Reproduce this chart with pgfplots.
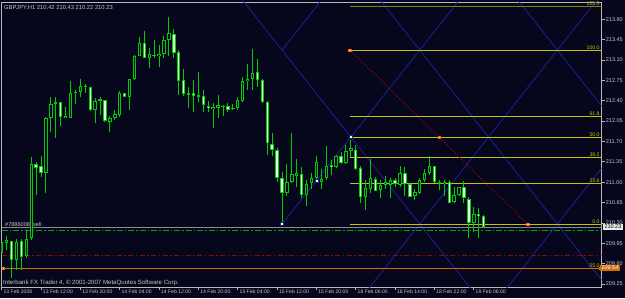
\documentclass[border=0pt]{standalone}
\usepackage{pgfplots}
\pgfplotsset{compat=1.18}
\usepackage{pgfplotstable}
\usepackage{fontspec}
\setmainfont{Liberation Sans}

\definecolor{bgc}{RGB}{6,6,28}
\definecolor{cgreen}{RGB}{0,205,0}
\definecolor{cwhite}{RGB}{228,255,228}
\definecolor{fibc}{RGB}{195,195,10}
\definecolor{fibtop}{RGB}{130,130,10}
\definecolor{gannc}{RGB}{32,32,150}
\definecolor{fibred}{RGB}{170,10,10}
\definecolor{framec}{RGB}{185,185,185}
\definecolor{lgray}{RGB}{200,200,200}
\definecolor{bidc}{RGB}{140,140,140}
\definecolor{ordgreen}{RGB}{0,165,0}
\definecolor{slred}{RGB}{135,10,10}
\definecolor{orangec}{RGB}{210,110,0}
\definecolor{boxgray}{RGB}{235,235,235}

\newcommand\fs[1]{\fontsize{#1}{#1}\selectfont}

\pgfplotsset{
  ebar/.style 2 args={draw=none, mark=none, forget plot,
    error bars/y dir=minus, error bars/y explicit, error bars/error mark=none,
    error bars/error bar style={draw=#1, line width=#2, line cap=butt}},
}

% bullish candles: i open high low close
\pgfplotstableread{
i o h l c
0 209.78 210.01 209.75 209.98
1 209.95 210.08 209.83 210.01
3 209.66 210.02 209.49 209.97
5 209.73 210.18 209.69 210.02
6 210.04 211.44 210.01 211.32
9 211.15 212.12 210.82 212.11
10 212.11 212.46 211.87 212.34
11 212.34 212.46 211.76 212.37
13 212.10 212.30 212.10 212.14
14 212.11 212.73 212.11 212.53
15 212.53 212.58 212.34 212.55
16 212.55 212.77 212.46 212.65
17 212.63 212.69 212.53 212.65
19 212.24 212.44 212.01 212.39
20 212.40 212.46 212.15 212.43
22 212.04 212.14 211.87 212.11
23 212.10 212.24 212.07 212.17
24 212.15 212.57 212.12 212.54
26 212.46 212.77 212.24 212.77
27 212.78 213.19 212.75 213.17
28 213.17 213.50 213.16 213.39
30 213.13 213.30 212.96 213.20
32 213.16 213.36 212.98 213.20
33 213.21 213.51 213.13 213.45
34 213.45 213.84 213.16 213.56
40 212.47 212.89 212.38 212.50
43 212.26 212.36 211.93 212.30
44 212.27 212.50 212.10 212.33
47 212.26 212.34 212.24 212.28
48 212.28 212.46 212.24 212.41
49 212.40 212.81 212.38 212.73
50 212.73 213.03 212.58 212.78
51 212.78 213.28 212.58 212.88
58 210.81 211.32 210.76 211.01
59 211.01 211.85 210.98 211.14
60 211.11 211.39 210.92 211.15
62 210.78 211.04 210.59 210.97
63 210.98 211.15 210.89 211.08
64 211.07 211.45 211.03 211.35
65 211.00 211.22 210.89 211.05
66 211.07 211.62 211.04 211.28
68 211.26 211.47 211.24 211.45
70 211.33 211.64 211.31 211.54
71 211.54 211.72 211.44 211.59
74 210.74 211.04 210.53 210.90
75 210.88 211.39 210.82 211.07
77 210.87 211.04 210.72 210.95
78 210.95 211.11 210.89 211.00
79 210.95 211.08 210.72 211.03
81 210.95 211.28 210.91 211.15
84 210.76 210.89 210.69 210.83
85 210.81 211.07 210.80 211.04
86 211.04 211.22 211.01 211.15
87 211.15 211.45 211.12 211.27
89 210.97 211.04 210.87 211.00
90 210.97 211.03 210.76 211.01
92 210.66 210.92 210.65 210.78
93 210.78 210.92 210.76 210.91
96 210.30 210.58 210.15 210.45
}\bulls

% bearish candles: i open high low close
\pgfplotstableread{
i o h l c
2 209.99 209.99 209.35 209.66
4 209.99 210.02 209.49 209.72
7 211.31 211.35 210.78 211.24
8 211.27 211.45 211.09 211.15
12 212.37 212.38 211.97 212.12
18 212.64 212.64 212.23 212.24
21 212.42 212.42 212.04 212.05
25 212.53 212.53 212.46 212.47
29 213.39 213.59 213.13 213.13
31 213.19 213.45 213.13 213.16
35 213.55 213.64 213.13 213.22
36 213.24 213.27 212.50 212.74
37 212.76 212.94 212.48 212.51
38 212.53 212.63 212.27 212.50
39 212.54 212.76 212.21 212.48
41 212.48 212.58 212.21 212.33
42 212.31 212.40 212.21 212.27
45 212.31 212.33 212.14 212.29
46 212.31 212.36 212.21 212.24
52 212.90 213.11 212.63 212.76
53 212.76 212.78 212.36 212.37
54 212.37 212.40 211.47 211.67
55 211.66 211.84 211.45 211.56
56 211.56 211.58 211.01 211.08
57 211.08 211.18 210.28 210.81
61 211.14 211.26 210.72 210.78
67 211.30 211.38 211.12 211.26
69 211.45 211.52 211.32 211.33
72 211.56 211.64 211.21 211.22
73 211.24 211.28 210.64 210.74
76 211.05 211.09 210.84 210.85
80 211.04 211.07 210.92 210.97
82 211.15 211.26 210.76 210.97
83 210.97 210.98 210.74 210.75
88 211.28 211.28 210.98 211.01
91 211.01 211.03 210.64 210.65
94 210.91 211.02 210.64 210.72
95 210.71 210.74 210.04 210.30
97 210.46 210.55 210.04 210.42
98 210.42 210.43 210.22 210.23
}\bears

\begin{document}
\begin{tikzpicture}[x=1pt,y=1pt]
\fill[bgc] (0pt,0pt) rectangle (625pt,298pt);
\begin{axis}[
  at={(1.7pt,11pt)}, anchor=south west,
  scale only axis, width=600pt, height=285pt,
  xmin=0, xmax=122, ymin=209.199, ymax=214.096,
  axis background/.style={fill=bgc},
  axis line style={draw=framec, line width=0.9pt},
  clip=true,
  xtick={0,8,...,96},
  xticklabels={13 Feb 2008,13 Feb 12:00,13 Feb 20:00,14 Feb 04:00,14 Feb 12:00,14 Feb 20:00,15 Feb 04:00,15 Feb 12:00,15 Feb 20:00,18 Feb 06:00,18 Feb 14:00,18 Feb 22:00,19 Feb 06:00},
  ytick={209.25,209.60,209.95,210.30,210.65,211.00,211.35,211.70,212.05,212.40,212.75,213.10,213.45,213.80},
  xtick pos=left, ytick pos=right, yticklabel pos=right,
  tick align=outside, major tick length=3pt,
  tick style={draw=framec, line width=0.7pt},
  xticklabel style={font=\fs{5.1}, text=lgray, anchor=north west, inner sep=0.5pt, xshift=1.2pt, yshift=1pt},
  yticklabel style={font=\fs{5.5}, text=lgray, anchor=west, inner sep=1pt,
    /pgf/number format/fixed, /pgf/number format/fixed zerofill,
    /pgf/number format/precision=2, /pgf/number format/assume math mode=true},
]
% Gann grid
\addplot[gannc, line width=0.8pt] coordinates {(45,214.5515) (100,208.678)};
\addplot[gannc, line width=0.8pt] coordinates {(73,214.5515) (128,208.678)};
\addplot[gannc, line width=0.8pt] coordinates {(101,214.5515) (130,211.4546)};
\addplot[gannc, line width=0.8pt] coordinates {(57,213.27) (69,214.5515)};
\addplot[gannc, line width=0.8pt] coordinates {(57,210.28) (97,214.5516)};
\addplot[gannc, line width=0.8pt] coordinates {(73,208.9985) (125,214.5516)};
\addplot[gannc, line width=0.8pt] coordinates {(101,208.9985) (130,212.0954)};
% Fibonacci levels
\addplot[fibtop, line width=1.8pt] coordinates {(70.82,214.0175) (122,214.0175)};
\addplot[fibc, line width=0.9pt] coordinates {(70.82,213.27) (122,213.27)};
\addplot[fibc, line width=0.9pt] coordinates {(70.82,212.128) (122,212.128)};
\addplot[fibc, line width=0.9pt] coordinates {(70.82,211.775) (122,211.775)};
\addplot[fibc, line width=0.9pt] coordinates {(70.82,211.422) (122,211.422)};
\addplot[fibc, line width=0.9pt] coordinates {(70.82,210.986) (122,210.986)};
\addplot[fibc, line width=0.9pt] coordinates {(70.82,210.28) (122,210.28)};
\addplot[fibred, line width=1pt, dash pattern=on 1pt off 2pt] coordinates {(70.82,213.27) (106.95,210.28)};
% order / price lines
\addplot[bidc, line width=0.9pt] coordinates {(0,210.23) (122,210.23)};
\addplot[ordgreen, line width=1pt, dash pattern=on 6pt off 2pt on 1.5pt off 2pt] coordinates {(0,210.178) (122,210.178)};
\addplot[slred, line width=1.5pt, dash pattern=on 5pt off 2.5pt on 1.5pt off 2.5pt] coordinates {(0,209.74) (122,209.74)};
\addplot[orangec, line width=1pt] coordinates {(0,209.525) (122,209.525)};
% candles: wicks
\addplot[ebar={cgreen}{1pt}] table[x=i, y=h, y error minus expr={\thisrow{h}-\thisrow{l}}] {\bulls};
\addplot[ebar={cgreen}{1pt}] table[x=i, y=h, y error minus expr={\thisrow{h}-\thisrow{l}}] {\bears};
% bodies
\addplot[ebar={cgreen}{3.4pt}] table[x=i, y=c, y error minus expr={max(\thisrow{c}-\thisrow{o},0.018)}] {\bulls};
\addplot[ebar={bgc}{1.4pt}] table[x=i, y expr={\thisrow{c}-0.0172}, y error minus expr={max(\thisrow{c}-\thisrow{o}-0.0344,0)}] {\bulls};
\addplot[ebar={cgreen}{3.4pt}] table[x=i, y=o, y error minus expr={max(\thisrow{o}-\thisrow{c},0.018)}] {\bears};
\addplot[ebar={cwhite}{1.4pt}] table[x=i, y expr={\thisrow{o}-0.0172}, y error minus expr={max(\thisrow{o}-\thisrow{c}-0.0344,0)}] {\bears};
% anchor markers
\addplot[only marks, mark=square*, mark size=1.4pt, mark options={fill=white, draw=gannc, line width=0.6pt}] coordinates {(56.93,210.28) (64.05,211.03) (71,211.775)};
\addplot[only marks, mark=square*, mark size=1.3pt, mark options={fill=white!60!orange, draw=orange!80!red, line width=0.5pt}] coordinates {(70.82,213.27) (88.98,211.775) (106.95,210.28)};
\addplot[only marks, mark=square*, mark size=1.2pt, mark options={fill=white, draw=orangec, line width=0.5pt}] coordinates {(0.35,209.525) (121.65,209.525)};
% fib labels
\begin{scope}[every node/.style={font=\fs{5.2}, text=fibc, anchor=south east, inner sep=0.4pt}]
\node at (axis cs:121.7,214.0175) {125.0};
\node at (axis cs:121.7,213.27) {100.0};
\node at (axis cs:121.7,212.128) {61.8};
\node at (axis cs:121.7,211.775) {50.0};
\node at (axis cs:121.7,211.422) {38.2};
\node at (axis cs:121.7,210.986) {23.6};
\node at (axis cs:121.7,210.28) {0.0};
\node at (axis cs:121.7,209.525) {-25.0};
\end{scope}
\node[font=\fs{5.6}, text=lgray, anchor=south west, inner sep=0.3pt] at (axis cs:0.6,210.23) {\#7886008\ \ sell};
\coordinate (bidpt) at (axis cs:122,210.23);
\coordinate (orpt) at (axis cs:122,209.525);
\end{axis}
\node[fill=boxgray, text=black, font=\fs{5.5}, inner xsep=2pt, inner ysep=0.8pt, anchor=west] at ([xshift=0.6pt]bidpt) {210.23};
\node[fill=orangec, text=white, font=\fs{5.5}, inner xsep=1.8pt, inner ysep=0.6pt, anchor=west] at ([xshift=-2.2pt]orpt) {209.54};
\node[font=\fs{5.8}, text=lgray, anchor=base west, inner sep=0pt] at (4pt,288.7pt) {GBPJPY,H1 210.42 210.43 210.22 210.23};
\node[font=\fs{6.1}, text=lgray, anchor=base west, inner sep=0pt] at (3pt,13.6pt) {Interbank FX Trader 4, © 2001-2007 MetaQuotes Software Corp.};
\pgfresetboundingbox
\useasboundingbox (0pt,0pt) rectangle (625pt,298pt);
\end{tikzpicture}
\end{document}
